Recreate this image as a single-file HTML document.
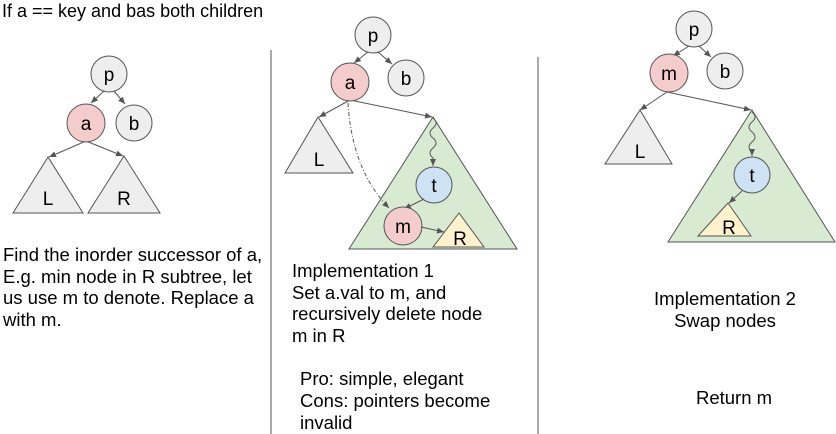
<!DOCTYPE html>
<html><head><style>
body{margin:0;background:#fff}
svg{display:block;font-family:"Liberation Sans",sans-serif}
</style></head><body>
<svg width="836" height="434" viewBox="0 0 836 434" xmlns="http://www.w3.org/2000/svg">
<defs><marker id="ar" markerWidth="8" markerHeight="8" refX="7" refY="4" orient="auto" markerUnits="userSpaceOnUse"><path d="M0,1 L7,4 L0,7z" fill="#555"/></marker></defs>
<g font-size="18.5" fill="#000">
<text x="2" y="17" font-size="18">If a == key and bas both children</text>
<text x="3" y="261">Find the inorder successor of a,</text>
<text x="3" y="283">E.g. min node in R subtree, let</text>
<text x="3" y="304">us use m to denote. Replace a</text>
<text x="3" y="326">with m.</text>
<text x="292" y="277">Implementation 1</text>
<text x="292" y="299">Set a.val to m, and</text>
<text x="292" y="320">recursively delete node</text>
<text x="292" y="342">m in R</text>
<text x="300" y="385">Pro: simple, elegant</text>
<text x="300" y="407">Cons: pointers become</text>
<text x="300" y="429">invalid</text>
<text x="725" y="305" text-anchor="middle">Implementation 2</text>
<text x="725" y="327" text-anchor="middle">Swap nodes</text>
<text x="734" y="404" text-anchor="middle">Return m</text>
</g>
<line x1="271" y1="50" x2="271" y2="434" stroke="#555"/>
<line x1="538" y1="57" x2="538" y2="434" stroke="#555"/>
<g stroke="#555" stroke-width="1" font-size="19" text-anchor="middle">
<line x1="104" y1="91" x2="91" y2="103" marker-end="url(#ar)"/>
<line x1="114" y1="91" x2="125" y2="104" marker-end="url(#ar)"/>
<line x1="86" y1="141" x2="49" y2="157" marker-end="url(#ar)"/>
<line x1="86" y1="141" x2="123" y2="156" marker-end="url(#ar)"/>
<polygon points="48,157 13,213 83,213" fill="#eee"/>
<polygon points="124,156 88,213 160,213" fill="#eee"/>
<circle cx="109" cy="74" r="18" fill="#eee"/>
<circle cx="86" cy="123" r="19" fill="#f4cccc"/>
<circle cx="134" cy="123" r="18" fill="#eee"/>
<g stroke="none" fill="#000"><text x="109" y="81">p</text><text x="86" y="130">a</text><text x="134" y="130">b</text><text x="48" y="205">L</text><text x="124" y="205">R</text></g>
<line x1="368" y1="52" x2="354" y2="63" marker-end="url(#ar)"/>
<line x1="378" y1="52" x2="392" y2="64" marker-end="url(#ar)"/>
<line x1="350" y1="100" x2="319" y2="117" marker-end="url(#ar)"/>
<line x1="350" y1="100" x2="432" y2="117" marker-end="url(#ar)"/>
<polygon points="318,117 285,173 353,173" fill="#eee"/>
<polygon points="433,117 349,249 517,249" fill="#d9ead3"/>
<path d="M433,118 q6,5 0,10 q-6,5 0,10 q6,5 0,10 q-6,5 0,10 l0,8" fill="none" marker-end="url(#ar)"/>
<path d="M348,103 Q352,170 389,208" fill="none" stroke-dasharray="4,2,1,2" marker-end="url(#ar)"/>
<polygon points="459,213 433,247 484,247" fill="#fff2cc"/>
<circle cx="373" cy="35" r="18" fill="#eee"/>
<circle cx="350" cy="82" r="19" fill="#f4cccc"/>
<circle cx="406" cy="78" r="18" fill="#eee"/>
<circle cx="434" cy="185" r="18" fill="#cfe2f3"/>
<line x1="424" y1="199" x2="404" y2="209" marker-end="url(#ar)"/>
<circle cx="403" cy="226" r="19" fill="#f4cccc"/>
<line x1="421" y1="227" x2="444" y2="232" marker-end="url(#ar)"/>
<g stroke="none" fill="#000"><text x="373" y="42">p</text><text x="350" y="89">a</text><text x="406" y="85">b</text><text x="319" y="166">L</text><text x="434" y="192">t</text><text x="403" y="233">m</text><text x="460" y="245">R</text></g>
<line x1="689" y1="46" x2="673" y2="56" marker-end="url(#ar)"/>
<line x1="699" y1="46" x2="711" y2="57" marker-end="url(#ar)"/>
<line x1="667" y1="92" x2="640" y2="110" marker-end="url(#ar)"/>
<line x1="667" y1="92" x2="751" y2="110" marker-end="url(#ar)"/>
<polygon points="640,110 605,164 672,164" fill="#eee"/>
<polygon points="752,110 668,242 835,242" fill="#d9ead3"/>
<path d="M752,112 q6,5 0,10 q-6,5 0,10 q6,5 0,10 q-6,5 0,10 l0,4" fill="none" marker-end="url(#ar)"/>
<line x1="742" y1="191" x2="729" y2="203" marker-end="url(#ar)"/>
<polygon points="728,203 698,236 751,236" fill="#fff2cc"/>
<circle cx="694" cy="29" r="18" fill="#eee"/>
<circle cx="669" cy="73" r="19" fill="#f4cccc"/>
<circle cx="725" cy="71" r="18" fill="#eee"/>
<circle cx="752" cy="175" r="18" fill="#cfe2f3"/>
<g stroke="none" fill="#000"><text x="694" y="36">p</text><text x="669" y="80">m</text><text x="725" y="78">b</text><text x="640" y="158">L</text><text x="752" y="182">t</text><text x="729" y="234">R</text></g>
</g>
</svg>
</body></html>
